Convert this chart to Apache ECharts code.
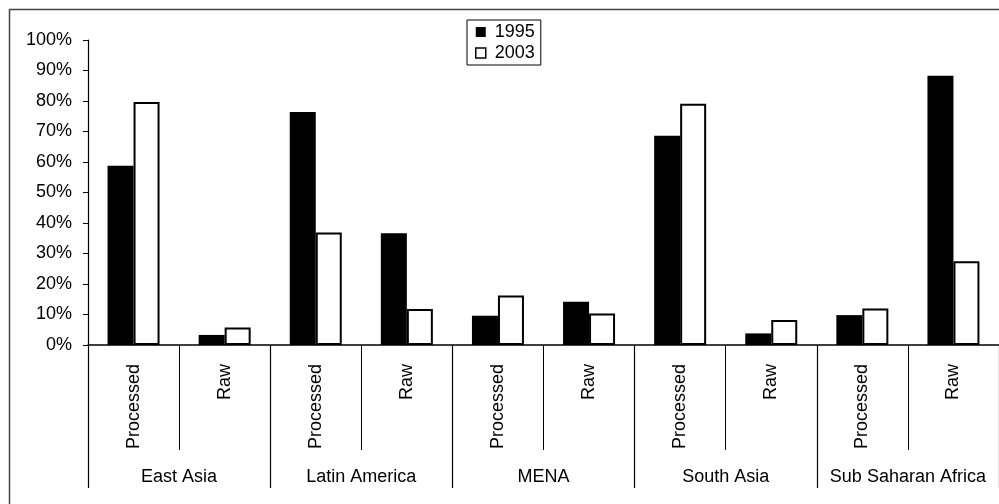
<!DOCTYPE html>
<html>
<head>
<meta charset="utf-8">
<script src="https://cdn.jsdelivr.net/npm/echarts@6/dist/echarts.min.js"></script>
<style>html,body{margin:0;padding:0;background:#fff;}#c{width:999px;height:504px;}</style>
</head>
<body>
<div id="c"></div>
<script>
var categories = ['Processed','Raw','Processed','Raw','Processed','Raw','Processed','Raw','Processed','Raw'];
var groups = ['East Asia','Latin America','MENA','South Asia','Sub Saharan Africa'];
var v1995 = [58.8, 3.3, 76.4, 36.6, 9.6, 14.2, 68.6, 3.8, 9.8, 88.3];
var v2003 = [79.7, 5.7, 36.9, 11.8, 16.2, 10.3, 79.1, 8.2, 12.0, 27.5];
var seriesNames = ['1995','2003'];

var FONT = 'Liberation Sans, Arial, sans-serif';
var chart = echarts.init(document.getElementById('c'), null, {renderer:'canvas'});
chart.setOption({
  animation: false,
  backgroundColor: '#fff',
  textStyle: {fontFamily: FONT, color: '#000'},
  graphic: [{
    type: 'rect', left: 7, top: 7, shape: {x:0, y:0, width: 1100, height: 600},
    style: {fill: 'none', stroke: '#444', lineWidth: 1.5}, silent: true, z: -1
  }],
  legend: {
    orient: 'vertical', left: 467, top: 20,
    backgroundColor: '#fff', borderColor: '#000', borderWidth: 1,
    padding: [3, 6, 3, 8], itemGap: 3,
    itemWidth: 10, itemHeight: 10, icon: 'rect',
    textStyle: {fontFamily: FONT, fontSize: 18, color: '#000', lineHeight: 18, padding: [0,0,0,4]},
    data: [
      {name: seriesNames[0], itemStyle: {color: '#000', borderColor: '#000', borderWidth: 0}},
      {name: seriesNames[1], itemStyle: {color: '#fff', borderColor: '#000', borderWidth: 1.5}}
    ]
  },
  grid: {left: 88, top: 40, width: 915, height: 305, containLabel: false},
  xAxis: [{
    type: 'category', data: categories, position: 'bottom',
    axisLine: {show: true, lineStyle: {color: '#000', width: 1.5}},
    axisTick: {show: true, alignWithLabel: false, interval: 0, length: 105, lineStyle: {color: '#000', width: 1}},
    axisLabel: {interval: 0, rotate: 90, margin: 19, fontSize: 18, color: '#000', fontFamily: FONT}
  }, {
    type: 'category', data: groups, position: 'bottom',
    axisLine: {show: false},
    axisTick: {show: true, interval: 0, length: 143, lineStyle: {color: '#000', width: 1.2}},
    axisLabel: {interval: 0, margin: 123, fontSize: 18, color: '#000', fontFamily: FONT}
  }],
  yAxis: {
    type: 'value', min: 0, max: 100, interval: 10,
    axisLine: {show: true, lineStyle: {color: '#000', width: 1.2}},
    axisTick: {show: true, inside: false, length: 5, lineStyle: {color: '#000'}},
    splitLine: {show: false},
    axisLabel: {formatter: '{value}%', fontSize: 18, color: '#000', margin: 16, fontFamily: FONT}
  },
  series: [{
    name: seriesNames[0], type: 'bar', data: v1995, barWidth: 26, barGap: '0%',
    itemStyle: {color: '#000', borderColor: '#000', borderWidth: 0}
  }, {
    name: seriesNames[1], type: 'bar', data: v2003, barWidth: 26, barGap: '0%',
    itemStyle: {color: '#fff', borderColor: '#000', borderWidth: 2}
  }]
});
</script>
</body>
</html>
